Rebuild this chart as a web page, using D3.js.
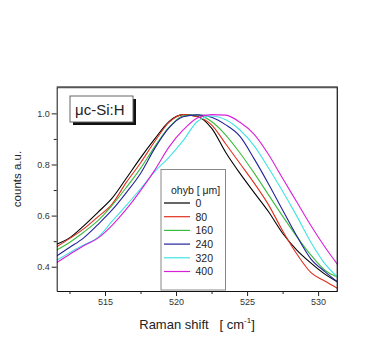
<!DOCTYPE html>
<html><head><meta charset="utf-8">
<script src="https://cdn.jsdelivr.net/npm/d3@7"></script>
<style>body{margin:0;background:#fff}svg{display:block;font-family:"Liberation Sans",Arial,sans-serif}</style>
</head><body>
<svg id="c" width="369" height="344"></svg>
<script>
const ramanShift = [511.6,512.5,513.5,514.5,515.5,516.5,517.5,518.5,519.5,520.5,521.5,522.5,523.5,524.5,525.5,526.5,527.5,528.5,529.5,530.5,531.35];
const seriesNames = ["0","80","160","240","320","400"];
const s0   = [.488,.513,.560,.613,.668,.746,.826,.900,.968,.995,.988,.942,.847,.765,.690,.616,.531,.465,.414,.370,.341];
const s80  = [.478,.510,.548,.595,.645,.730,.806,.890,.965,.995,.987,.955,.880,.804,.727,.643,.541,.450,.377,.343,.316];
const s160 = [.465,.495,.535,.580,.640,.710,.785,.870,.945,.990,.994,.968,.915,.845,.766,.682,.598,.518,.445,.385,.360];
const s240 = [.442,.475,.513,.565,.622,.690,.765,.863,.943,.987,.994,.985,.955,.910,.822,.725,.622,.520,.430,.380,.341];
const s320 = [.425,.455,.485,.515,.578,.640,.705,.772,.828,.893,.968,.990,.975,.935,.873,.787,.695,.598,.495,.410,.360];
const s400 = [.416,.448,.482,.512,.562,.625,.698,.778,.868,.935,.982,.995,.993,.965,.918,.840,.746,.653,.560,.475,.410];
const seriesColors = ["#000000","#e0301e","#3cbc3c","#22229a","#40e4e4","#d820d8"];
const xTicks = [515,520,525,530];
const xMinor = [512.5,517.5,522.5,527.5];
const yTicks = [0.4,0.6,0.8,1.0];
const yMinor = [0.5,0.7,0.9];

const series = [s0,s80,s160,s240,s320,s400];
const svg = d3.select("#c");
const L=56.7,R=337.3,T=87.3,B=291;
const x = d3.scaleLinear().domain([511.6,531.35]).range([L,R]);
const y = d3.scaleLinear().domain([0.305,1.102]).range([B,T]);

svg.append("defs").append("clipPath").attr("id","clip").append("rect")
  .attr("x",L).attr("y",T).attr("width",R-L).attr("height",B-T);

// curves
const line = d3.line().x(d=>x(d[0])).y(d=>y(d[1])).curve(d3.curveMonotoneX);
const g = svg.append("g").attr("clip-path","url(#clip)");
series.forEach((s,i)=>{
  g.append("path").datum(ramanShift.map((v,j)=>[v,s[j]]))
   .attr("d",line).attr("fill","none").attr("stroke",seriesColors[i]).attr("stroke-width",1.1);
});

// frame top/right
svg.append("line").attr("x1",L).attr("x2",R+0.5).attr("y1",T).attr("y2",T).attr("stroke","#555").attr("stroke-width",2);
svg.append("line").attr("x1",R).attr("x2",R).attr("y1",T).attr("y2",B).attr("stroke","#222").attr("stroke-width",1.3);

// axes
svg.append("g").attr("transform",`translate(0,${B})`)
  .call(d3.axisBottom(x).tickValues(xTicks).tickSize(5).tickSizeOuter(0).tickPadding(3).tickFormat(d3.format("d")));
svg.append("g").attr("transform",`translate(0,${B})`)
  .call(d3.axisBottom(x).tickValues(xMinor).tickSize(3).tickSizeOuter(0).tickFormat(""))
  .select(".domain").remove();
svg.append("g").attr("transform",`translate(${L},0)`)
  .call(d3.axisLeft(y).tickValues(yTicks).tickSize(5).tickSizeOuter(0).tickPadding(2).tickFormat(d3.format(".1f")));
svg.append("g").attr("transform",`translate(${L},0)`)
  .call(d3.axisLeft(y).tickValues(yMinor).tickSize(3).tickSizeOuter(0).tickFormat(""))
  .select(".domain").remove();
svg.selectAll(".tick text").attr("font-size",9).attr("fill","#333").attr("font-family","Liberation Sans, Arial, sans-serif");
svg.selectAll(".domain").attr("stroke","#111");
svg.selectAll(".tick line").attr("stroke","#222");

// axis titles
const xt = svg.append("text").attr("x",197).attr("y",329).attr("text-anchor","middle")
  .attr("font-size",13).attr("fill","#222");
xt.append("tspan").text("Raman shift\u00a0\u00a0\u00a0[ cm");
xt.append("tspan").attr("font-size",8).attr("dy",-6).text("-1");
xt.append("tspan").attr("dy",6).text("]");
svg.append("text").attr("transform","translate(21,179) rotate(-90)").attr("text-anchor","middle")
  .attr("font-size",11.5).attr("fill","#222").text("counts a.u.");

// label box
svg.append("rect").attr("x",73).attr("y",99).attr("width",63).attr("height",26).attr("fill","#111");
svg.append("rect").attr("x",70).attr("y",96).attr("width",63).attr("height",26).attr("fill","#fff").attr("stroke","#666").attr("stroke-width",1);
svg.append("text").attr("x",75).attr("y",115).attr("font-size",15).attr("fill","#222").text("\u03bcc-Si:H");

// legend
svg.append("rect").attr("x",161).attr("y",169.5).attr("width",64.5).attr("height",120.5).attr("fill","#fff").attr("stroke","#888").attr("stroke-width",1);
svg.append("text").attr("x",171).attr("y",194).attr("font-size",10.5).attr("fill","#222").text("ohyb [ \u03bcm]");
seriesNames.forEach((n,i)=>{
  const yy = 203 + i*13.7;
  svg.append("line").attr("x1",164).attr("x2",190).attr("y1",yy).attr("y2",yy).attr("stroke",seriesColors[i]).attr("stroke-width",1.2);
  svg.append("text").attr("x",195.5).attr("y",yy+3.8).attr("font-size",10.5).attr("fill","#222").text(n);
});
</script>
</body></html>
